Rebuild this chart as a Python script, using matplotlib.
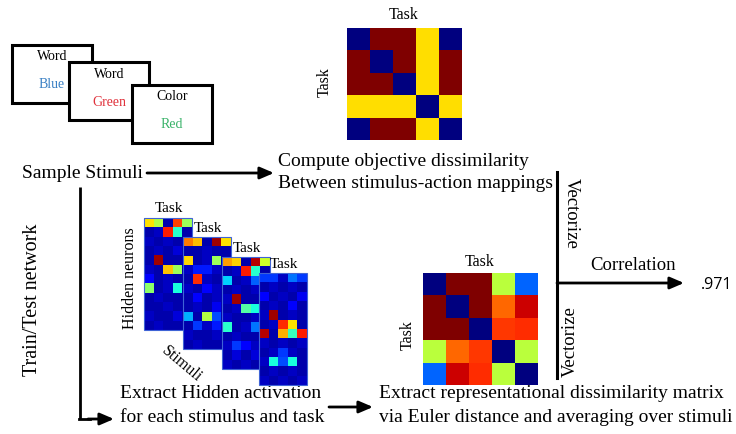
import numpy as np
import matplotlib
matplotlib.use('Agg')
import matplotlib.pyplot as plt
from matplotlib.patches import Rectangle

plt.rcParams['font.family'] = ['Liberation Serif', 'DejaVu Serif']

# objective dissimilarity between tasks (top matrix), jet scale
objective_rdm = [
    [0.00, 1.00, 1.00, 0.675, 0.00],
    [1.00, 0.00, 1.00, 0.675, 1.00],
    [1.00, 1.00, 0.00, 0.675, 1.00],
    [0.675, 0.675, 0.675, 0.00, 0.675],
    [0.00, 1.00, 1.00, 0.675, 0.00],
]

# hidden-layer dissimilarity (bottom right matrix)
hidden_rdm = [
    [0.00, 1.00, 1.00, 0.575, 0.225],
    [1.00, 0.00, 1.00, 0.80, 0.93],
    [1.00, 1.00, 0.00, 0.85, 0.86],
    [0.575, 0.80, 0.85, 0.00, 0.575],
    [0.225, 0.93, 0.86, 0.575, 0.00],
]

# hidden activations, one 12 x 5 (neurons x stimuli) block per task
act_task1 = [
    [0.67, 0.57, 0.04, 0.84, 0.54],
    [0.04, 0.06, 0.88, 0.40, 0.04],
    [0.06, 0.04, 0.06, 0.04, 0.04],
    [0.04, 0.06, 0.04, 0.08, 0.04],
    [0.04, 0.97, 0.04, 0.04, 0.04],
    [0.06, 0.04, 0.70, 0.54, 0.04],
    [0.12, 0.04, 0.06, 0.04, 0.04],
    [0.52, 0.04, 0.06, 0.38, 0.04],
    [0.04, 0.06, 0.04, 0.04, 0.04],
    [0.04, 0.04, 0.06, 0.04, 0.04],
    [0.06, 0.04, 0.04, 0.08, 0.04],
    [0.04, 0.06, 0.04, 0.04, 0.04],
]
act_task2 = [
    [0.78, 0.71, 0.04, 0.97, 0.67],
    [0.04, 0.04, 0.06, 0.04, 0.04],
    [0.68, 0.04, 0.06, 0.54, 0.04],
    [0.06, 0.15, 0.15, 0.06, 0.04],
    [0.04, 0.86, 0.06, 0.04, 0.04],
    [0.06, 0.04, 0.12, 0.06, 0.04],
    [0.04, 0.12, 0.04, 0.06, 0.04],
    [0.04, 0.06, 0.04, 0.10, 0.04],
    [0.30, 0.04, 0.57, 0.20, 0.04],
    [0.04, 0.18, 0.06, 0.15, 0.04],
    [0.06, 0.04, 0.04, 0.06, 0.04],
    [0.04, 0.06, 0.04, 0.04, 0.04],
]
act_task3 = [
    [0.74, 0.69, 0.04, 0.95, 0.60],
    [0.04, 0.06, 0.88, 0.40, 0.04],
    [0.33, 0.04, 0.06, 0.22, 0.20],
    [0.04, 0.06, 0.04, 0.06, 0.04],
    [0.06, 0.97, 0.04, 0.04, 0.04],
    [0.04, 0.06, 0.45, 0.38, 0.12],
    [0.06, 0.04, 0.04, 0.06, 0.04],
    [0.40, 0.04, 0.06, 0.24, 0.04],
    [0.04, 0.06, 0.04, 0.04, 0.04],
    [0.06, 0.18, 0.12, 0.06, 0.04],
    [0.04, 0.08, 0.04, 0.08, 0.04],
    [0.06, 0.04, 0.06, 0.04, 0.04],
]
act_task4 = [
    [0.18, 0.18, 0.06, 0.24, 0.18],
    [0.04, 0.06, 0.04, 0.06, 0.04],
    [0.12, 0.04, 0.06, 0.04, 0.10],
    [0.04, 0.06, 0.04, 0.12, 0.04],
    [0.06, 0.97, 0.04, 0.06, 0.04],
    [0.04, 0.06, 0.86, 0.67, 0.04],
    [0.95, 0.04, 0.72, 0.42, 0.88],
    [0.06, 0.04, 0.06, 0.04, 0.06],
    [0.04, 0.06, 0.18, 0.06, 0.04],
    [0.06, 0.38, 0.20, 0.38, 0.04],
    [0.04, 0.06, 0.04, 0.06, 0.04],
    [0.06, 0.04, 0.06, 0.04, 0.06],
]

# stimulus cards: (task word, stimulus word, ink colour)
cards = [("Word", "Blue", "#3a80c4"), ("Word", "Green", "#e0323c"), ("Color", "Red", "#3bb36a")]
correlation = ".971"

fig = plt.figure(figsize=(7.36, 4.34), dpi=100)
ax = fig.add_axes([0, 0, 1, 1])
cmap = plt.get_cmap('jet')


def matrix(data, x0, y0, w, h, z=2, edge=None):
    ax.imshow(np.array(data), cmap=cmap, vmin=0, vmax=1, extent=(x0, x0 + w, y0 + h, y0),
              aspect='auto', interpolation='nearest', zorder=z)
    if edge:
        ax.add_patch(Rectangle((x0, y0), w, h, fill=False, ec=edge, lw=0.8, zorder=z + 0.1))


def arrow(x0, y0, x1, y1):
    ax.annotate('', xy=(x1, y1), xytext=(x0, y0),
                arrowprops=dict(arrowstyle='-|>,head_length=0.7,head_width=0.3', lw=2,
                                color='k', mutation_scale=12, shrinkA=0, shrinkB=0))


# stimulus cards
card_pos = [(12, 45), (69, 62), (132, 85)]
for i, ((task, word, col), (cx, cy)) in enumerate(zip(cards, card_pos)):
    ax.add_patch(Rectangle((cx, cy), 80, 58, fc='white', ec='k', lw=2.2, zorder=3 + i))
    ax.text(cx + 40, cy + 12, task, ha='center', va='center', fontsize=10, zorder=3 + i)
    ax.text(cx + 40, cy + 40, word, ha='center', va='center', fontsize=10, color=col, zorder=3 + i)

ax.text(22, 173, "Sample Stimuli", ha='left', va='center', fontsize=14)
arrow(147, 173, 274, 173)

# objective RDM
matrix(objective_rdm, 347, 28, 115, 112)
ax.text(404, 15, "Task", ha='center', va='center', fontsize=11.5)
ax.text(325, 82, "Task", ha='center', va='center', fontsize=11.5, rotation=90)
ax.text(278, 161, "Compute objective dissimilarity", ha='left', va='center', fontsize=14)
ax.text(278, 183, "Between stimulus-action mappings", ha='left', va='center', fontsize=14)

# hidden activations stack
blocks = [act_task1, act_task2, act_task3, act_task4]
origins = [(144, 218), (183, 237), (222, 257), (259, 273)]
for k, (blk, (bx, by)) in enumerate(zip(blocks, origins)):
    matrix(blk, bx, by, 48, 112, z=2 + k, edge='#3f63d6')
    ax.text(bx + 25, by - 9, "Task", ha='center', va='center', fontsize=11, zorder=2 + k)
ax.text(130, 278, "Hidden neurons", ha='center', va='center', fontsize=11.5, rotation=90)
ax.text(182, 364, "Stimuli", ha='center', va='center', fontsize=11.5, rotation=-40)

# train/test path
ax.plot([80, 80], [187, 419], color='k', lw=2, solid_capstyle='butt')
ax.plot([79, 90], [419, 419], color='k', lw=2)
arrow(88, 419, 114, 419)
ax.text(33, 300, "Train/Test network", ha='center', va='center', fontsize=14.5, rotation=90)
ax.text(120, 394, "Extract Hidden activation", ha='left', va='center', fontsize=14)
ax.text(120, 418, "for each stimulus and task", ha='left', va='center', fontsize=14)
arrow(329, 407, 373, 407)

# hidden RDM
matrix(hidden_rdm, 423, 273, 115, 112)
ax.text(480, 262, "Task", ha='center', va='center', fontsize=11.5)
ax.text(408, 335, "Task", ha='center', va='center', fontsize=11.5, rotation=90)
ax.text(379, 394, "Extract representational dissimilarity matrix", ha='left', va='center', fontsize=14)
ax.text(379, 418, "via Euler distance and averaging over stimuli", ha='left', va='center', fontsize=14)

# vectorize + correlation
ax.plot([557, 557], [172, 378], color='k', lw=2.2)
arrow(557, 283, 684, 283)
ax.text(571, 213, "Vectorize", ha='center', va='center', fontsize=13.5, rotation=-90)
ax.text(570, 342, "Vectorize", ha='center', va='center', fontsize=13.5, rotation=90)
ax.text(633, 265, "Correlation", ha='center', va='center', fontsize=13.5)
ax.text(717, 285, correlation, ha='center', va='center', fontsize=11.5, family='Open Sans')

ax.set_xlim(0, 736)
ax.set_ylim(434, 0)
ax.axis('off')
fig.savefig('out.png', dpi=100)
